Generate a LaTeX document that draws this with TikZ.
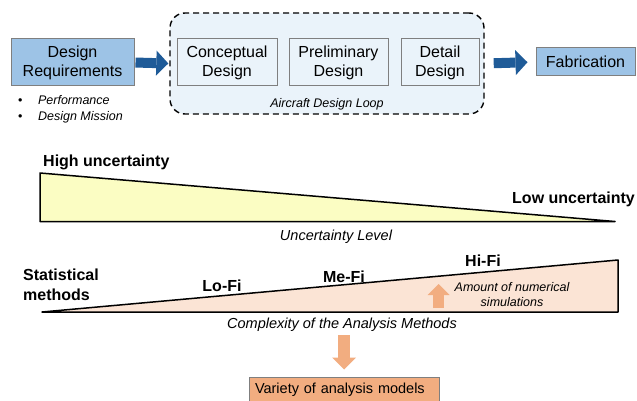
\documentclass[tikz,border=0pt]{standalone}
\usepackage{fontspec}
\setmainfont{Liberation Sans}
\usetikzlibrary{arrows.meta}
\definecolor{reqblue}{HTML}{9DC3E6}
\definecolor{loopblue}{HTML}{EAF3FA}
\definecolor{arrowblue}{HTML}{1F5B98}
\definecolor{uncyellow}{HTML}{FBFDC3}
\definecolor{cpxpeach}{HTML}{FBE4D5}
\definecolor{cpxorange}{HTML}{F2AD80}
\definecolor{boxgray}{HTML}{7F7F7F}
\def\bigtxt{\fontsize{16}{19}\selectfont}
\def\midtxt{\fontsize{14.5}{17}\selectfont}
\def\smalltxt{\fontsize{12.5}{15}\selectfont}

\begin{document}
\begin{tikzpicture}[x=1pt,y=-1pt,
	stagebox/.style={draw=boxgray, line width=1pt, fill=loopblue, align=center, inner sep=0pt, font=\bigtxt, minimum height=47pt},
	bluebox/.style={stagebox, fill=reqblue},
	loopframe/.style={draw=black, line width=1.4pt, dash pattern=on 6pt off 4pt, rounded corners=15pt, fill=loopblue},
	bluearrow/.style={arrowblue, line width=10pt, -{Triangle[length=12pt,width=25pt,line width=0pt]}},
	orangearrow/.style={cpxorange, line width=12pt, -{Triangle[length=12pt,width=24pt,line width=0pt]}},
	wedge/.style={draw=black, line width=1.5pt, line join=round},
	boldlbl/.style={font=\fontsize{16}{20}\selectfont\bfseries, inner sep=0pt},
	italbl/.style={font=\midtxt\itshape, inner sep=0pt}]
			%%%%% START %%%%%
			\useasboundingbox (0,0) rectangle (637,401);
			
			% design loop
			\node[loopframe, minimum width=314pt, minimum height=101pt] (loop) at (327,63.5) {};
			\node[stagebox, minimum width=100pt] (concept) at (227,62.5) {Conceptual\\Design};
			\node[stagebox, minimum width=99pt] (prelim) at (338.5,62.5) {Preliminary\\Design};
			\node[stagebox, minimum width=78pt] (detail) at (440,62.5) {Detail\\Design};
			\node[font=\smalltxt\itshape, inner sep=0pt] (looplbl) at (327,104) {Aircraft Design Loop};
			
			\node[bluebox, minimum width=123pt] (req) at (72.5,62.5) {Design\\Requirements};
			\node[bluebox, minimum width=99pt, minimum height=28pt] (fab) at (585.5,62) {Fabrication};
			\node[anchor=west, font=\smalltxt, inner sep=0pt] (perf) at (18,100) {\textbullet\hspace{15.5pt}\textit{Performance}};
			\node[anchor=west, font=\smalltxt, inner sep=0pt] (mission) at (18,117) {\textbullet\hspace{15.5pt}\textit{Design Mission}};
			
			\draw[bluearrow, shorten <=1pt, shorten >=1pt] (req.east) -- (loop.west);
			\draw[bluearrow, shorten <=9pt, shorten >=8pt] (loop.east) -- (fab.west);
			
			% uncertainty
			\draw[wedge, fill=uncyellow] (40,173) -- (40,221.5) -- (615,221.5) -- cycle;
			\node[boldlbl, anchor=west] (highunc) at (43,162) {High uncertainty};
			\node[boldlbl, anchor=west] (lowunc) at (512,199) {Low uncertainty};
			\node[italbl] (unclbl) at (336,237) {Uncertainty Level};
			
			% analysis methods
			\draw[wedge, fill=cpxpeach] (42,312) -- (618,312) -- (618,260) -- cycle;
			\node[boldlbl, anchor=west, align=left] (stat) at (23,285) {Statistical\\methods};
			\node[boldlbl] (lofi) at (222,286) {Lo-Fi};
			\node[boldlbl] (mefi) at (344,277) {Me-Fi};
			\node[boldlbl] (hifi) at (483,261) {Hi-Fi};
			\node[font=\smalltxt\itshape, align=center, inner sep=0pt] (numsim) at (512,294.5) {Amount of numerical\\simulations};
			\coordinate (upbase) at (438.5,308);
			\coordinate (uptip) at (438.5,284);
			\draw[orangearrow, line width=11pt, -{Triangle[length=11pt,width=22pt,line width=0pt]}] (upbase) -- (uptip);
			\node[italbl] (cpxlbl) at (342,325) {Complexity of the Analysis Methods};
			
			\node[draw=boxgray, line width=1pt, fill=cpxorange, font=\midtxt, text width=178pt, inner xsep=6pt, minimum height=26pt] (variety) at (344,390) {Variety of analysis models};
			\coordinate (dntop) at (344,335);
			\draw[orangearrow, shorten >=7pt] (dntop) -- (variety.north);
			%%%%% END %%%%%
\end{tikzpicture}
\end{document}
